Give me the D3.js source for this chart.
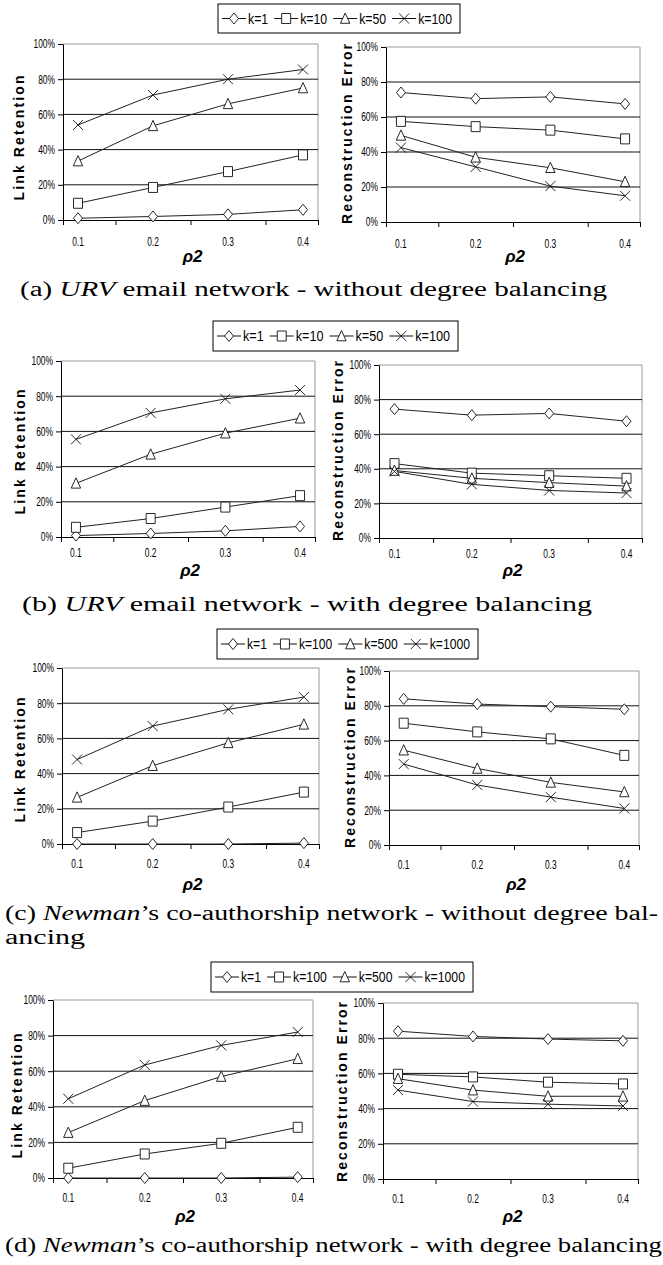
<!DOCTYPE html>
<html>
<head>
<meta charset="utf-8">
<script src="https://cdn.jsdelivr.net/npm/d3@7/dist/d3.min.js"></script>
<style>
  body { margin: 0; background: #fff; }
  .narrow { font-family: "Liberation Sans", Arial, sans-serif; }
</style>
</head>
<body>
<script>
// x values (p2) and tick stuff
const xValues = [0.1, 0.2, 0.3, 0.4];
const xLabels = ["0.1", "0.2", "0.3", "0.4"];
const xMinorTicks = [0.15, 0.25, 0.35];
const yTicks = [0, 20, 40, 60, 80, 100];

// legend entries
const kUrv = ["k=1", "k=10", "k=50", "k=100"];
const kNewman = ["k=1", "k=100", "k=500", "k=1000"];

// values, in %, one row per k
const urvRetention = [[1, 2, 3.2, 5.8], [9.5, 18.5, 27.5, 37], [33.5, 53.5, 66, 75], [54, 71, 80, 85.5]];
const urvError = [[74, 70.5, 71.5, 67.5], [57.5, 54.5, 52.5, 47.5], [49.5, 37, 31, 23], [42.5, 31.5, 20.5, 15]];
const urvBalRetention = [[0.8, 2, 3.5, 6], [5.5, 10.5, 17, 23.5], [30.5, 47, 59, 67.5], [55.5, 70.5, 78.5, 83.5]];
const urvBalError = [[74.5, 71, 72, 67.5], [43, 37.5, 36, 34.5], [39, 34.5, 32, 30], [38.5, 31, 27.5, 26]];
const newmanRetention = [[0, 0, 0, 0.5], [6.5, 13, 21, 29.5], [26.5, 44.5, 57.5, 68], [48, 67, 76.5, 83.5]];
const newmanError = [[84, 81, 79.5, 78], [70, 65, 61, 51.5], [54.5, 44, 36, 30.5], [46.5, 34.5, 27.5, 21]];
const newmanBalRetention = [[0, 0, 0, 0.5], [5.5, 13.5, 19.5, 28.5], [25.5, 43.5, 57, 67], [44.5, 63.5, 74.5, 82]];
const newmanBalError = [[84, 81, 79.5, 78.5], [59.5, 58, 55, 54], [57, 50.5, 47, 47], [50.5, 44, 42.5, 41.5]];

// captions, [text, italic]
const captionA = [[["(a) ", false], ["URV", true], [" email network - without degree balancing", false]]];
const captionB = [[["(b) ", false], ["URV", true], [" email network - with degree balancing", false]]];
const captionC = [[["(c) ", false], ["Newman", true], ["\u2019s co-authorship network - without degree bal-", false]], [["ancing", false]]];
const captionD = [[["(d) ", false], ["Newman", true], ["\u2019s co-authorship network - with degree balancing", false]]];

// marker shapes for the 4 series
const markerPaths = [
  "M0,-5.5L4.5,0L0,5.5L-4.5,0Z",      // diamond
  "M-4.5,-5H4.5V5H-4.5Z",             // square
  "M0,-5.5L4.7,4.8H-4.7Z",            // triangle
  "M-5,-5L5,5M-5,5L5,-5"              // x
];

// layout of each sub figure (pixel boxes of the plot areas)
const panels = [
  { keys: kUrv, legend: { cx: 339, y: 4, h: 29, w: 242 },
    left: { x0: 63, x1: 318, y0: 44, y1: 220, data: urvRetention, tx: 19, ty: 138 },
    right: { x0: 386, x1: 640, y0: 47, y1: 222, data: urvError, tx: 347, ty: 134 },
    labelOff: 22, rhoY: 262, caption: captionA, capX: 20, capY: [296], capW: [587] },
  { keys: kUrv, legend: { cx: 335.5, y: 321, h: 30, w: 245 },
    left: { x0: 61, x1: 315, y0: 361, y1: 537, data: urvBalRetention, tx: 20, ty: 452 },
    right: { x0: 379, x1: 642, y0: 365, y1: 538, data: urvBalError, tx: 338, ty: 451 },
    labelOff: 16, rhoY: 576, caption: captionB, capX: 22, capY: [611], capW: [570] },
  { keys: kNewman, legend: { cx: 347.5, y: 629, h: 30, w: 261 },
    left: { x0: 62, x1: 319, y0: 668, y1: 844, data: newmanRetention, tx: 20, ty: 760 },
    right: { x0: 389, x1: 639, y0: 671, y1: 845, data: newmanError, tx: 350, ty: 758 },
    labelOff: 20, rhoY: 890, caption: captionC, capX: 5, capY: [920, 944], capW: [653, 80] },
  { keys: kNewman, legend: { cx: 342, y: 962, h: 30, w: 262 },
    left: { x0: 53, x1: 313, y0: 1000, y1: 1178, data: newmanBalRetention, tx: 17, ty: 1096 },
    right: { x0: 383, x1: 638, y0: 1003, y1: 1179, data: newmanBalError, tx: 342, ty: 1092 },
    labelOff: 20, rhoY: 1222, caption: captionD, capX: 5, capY: [1252], capW: [657] }
];

const width = 663;
const height = 1265;

const svg = d3.select("body")
  .append("svg")
  .attr("width", width)
  .attr("height", height);

// squeeze text horizontally (the original uses a narrow font)
function squeeze(sel, f) {
  sel.each(function () {
    const w = this.getComputedTextLength();
    d3.select(this).attr("textLength", w * f).attr("lengthAdjust", "spacingAndGlyphs");
  });
}

function drawPlot(box, data, title, titleLen, labelOff, rhoY) {
  const g = svg.append("g");
  const x = d3.scaleLinear().domain([0.08, 0.42]).range([box.x0, box.x1]);
  const y = d3.scaleLinear().domain([0, 100]).range([box.y1, box.y0]);

  // gray frame top + right
  g.append("path")
    .attr("d", `M${box.x0},${box.y0}H${box.x1}V${box.y1}`)
    .attr("fill", "none")
    .attr("stroke", "#999");

  // horizontal gridlines
  g.selectAll(".grid")
    .data(yTicks.filter(d => d > 0 && d < 100))
    .join("line")
    .attr("x1", box.x0).attr("x2", box.x1)
    .attr("y1", d => y(d)).attr("y2", d => y(d))
    .attr("stroke", "#111")
    .attr("stroke-width", 1);

  // y axis
  const yaxis = d3.axisLeft(y).tickValues(yTicks).tickFormat(d => d + "%").tickSize(5).tickSizeOuter(0).tickPadding(3);
  const gy = g.append("g").attr("transform", `translate(${box.x0},0)`).call(yaxis);
  gy.attr("font-family", null).attr("font-size", null);
  gy.selectAll("text").attr("class", "narrow").style("font-size", "12px").call(squeeze, 0.7);

  // x axis, only tick marks between categories
  const xaxis = d3.axisBottom(x).tickValues([0.08].concat(xMinorTicks, [0.42])).tickFormat("").tickSize(5).tickSizeOuter(0);
  g.append("g").attr("transform", `translate(0,${box.y1})`).call(xaxis);

  // x labels under the points
  g.selectAll(".xl")
    .data(xValues)
    .join("text")
    .attr("class", "narrow")
    .attr("x", d => x(d))
    .attr("y", box.y1 + labelOff)
    .attr("dy", "0.35em")
    .attr("text-anchor", "middle")
    .style("font-size", "12px")
    .text((d, i) => xLabels[i])
    .call(squeeze, 0.7);

  // axis titles
  g.append("text")
    .attr("transform", `translate(${box.tx},${box.ty}) rotate(-90)`)
    .attr("text-anchor", "middle")
    .attr("dy", "0.35em")
    .attr("textLength", titleLen)
    .attr("lengthAdjust", "spacing")
    .style("font-family", "'Liberation Sans', Arial, sans-serif")
    .style("font-weight", "bold")
    .style("font-size", "14px")
    .text(title);

  g.append("text")
    .attr("x", (box.x0 + box.x1) / 2 + 2)
    .attr("y", rhoY)
    .attr("text-anchor", "middle")
    .style("font-family", "'Liberation Sans', Arial, sans-serif")
    .style("font-weight", "bold")
    .style("font-style", "italic")
    .style("font-size", "17px")
    .text("\u03c12");

  // series
  const line = d3.line().x((d, i) => x(xValues[i])).y(d => y(d));
  data.forEach((s, k) => {
    g.append("path")
      .attr("d", line(s))
      .attr("fill", "none")
      .attr("stroke", "#222")
      .attr("stroke-width", 1);
  });
  data.forEach((s, k) => {
    g.selectAll(null)
      .data(s)
      .join("path")
      .attr("transform", (d, i) => `translate(${x(xValues[i])},${y(d)})`)
      .attr("d", markerPaths[k])
      .attr("fill", k === 3 ? "none" : "#fff")
      .attr("stroke", "#111")
      .attr("stroke-width", 0.9);
  });
}

function drawLegend(keys, lg) {
  const g = svg.append("g");
  const items = g.append("g");
  const cy = lg.y + lg.h / 2;
  // first measure the labels, then squeeze them so the box gets its width
  const texts = keys.map(k => items.append("text")
    .attr("class", "narrow")
    .attr("y", cy)
    .attr("dy", "0.36em")
    .style("font-size", "15px")
    .text(k));
  const widths = texts.map(t => t.node().getComputedTextLength());
  const f = (lg.w - 6 - keys.length * 32) / d3.sum(widths);
  let cursor = 4;
  keys.forEach((k, i) => {
    items.append("line")
      .attr("x1", cursor).attr("x2", cursor + 24)
      .attr("y1", cy).attr("y2", cy)
      .attr("stroke", "#111");
    items.append("path")
      .attr("transform", `translate(${cursor + 12},${cy})`)
      .attr("d", markerPaths[i])
      .attr("fill", i === 3 ? "none" : "#fff")
      .attr("stroke", "#111")
      .attr("stroke-width", 0.9);
    texts[i].attr("x", cursor + 26)
      .attr("textLength", widths[i] * f)
      .attr("lengthAdjust", "spacingAndGlyphs");
    cursor += 26 + widths[i] * f + 6;
  });
  const x0 = lg.cx - lg.w / 2;
  items.attr("transform", `translate(${x0},0)`);
  g.insert("rect", ":first-child")
    .attr("x", x0).attr("y", lg.y)
    .attr("width", lg.w).attr("height", lg.h)
    .attr("fill", "#fff")
    .attr("stroke", "#000");
}

function drawCaption(p) {
  p.caption.forEach((lineParts, li) => {
    const t = svg.append("text")
      .attr("x", p.capX)
      .attr("y", p.capY[li])
      .attr("textLength", p.capW[li])
      .attr("lengthAdjust", "spacingAndGlyphs")
      .style("font-family", "'Liberation Serif', 'Times New Roman', serif")
      .style("font-size", "20px");
    lineParts.forEach(part => {
      t.append("tspan")
        .style("font-style", part[1] ? "italic" : "normal")
        .text(part[0]);
    });
  });
}

panels.forEach(p => {
  drawLegend(p.keys, p.legend);
  drawPlot(p.left, p.left.data, "Link Retention", 125, p.labelOff, p.rhoY);
  drawPlot(p.right, p.right.data, "Reconstruction Error", 180, p.labelOff, p.rhoY);
  drawCaption(p);
});
</script>
</body>
</html>
